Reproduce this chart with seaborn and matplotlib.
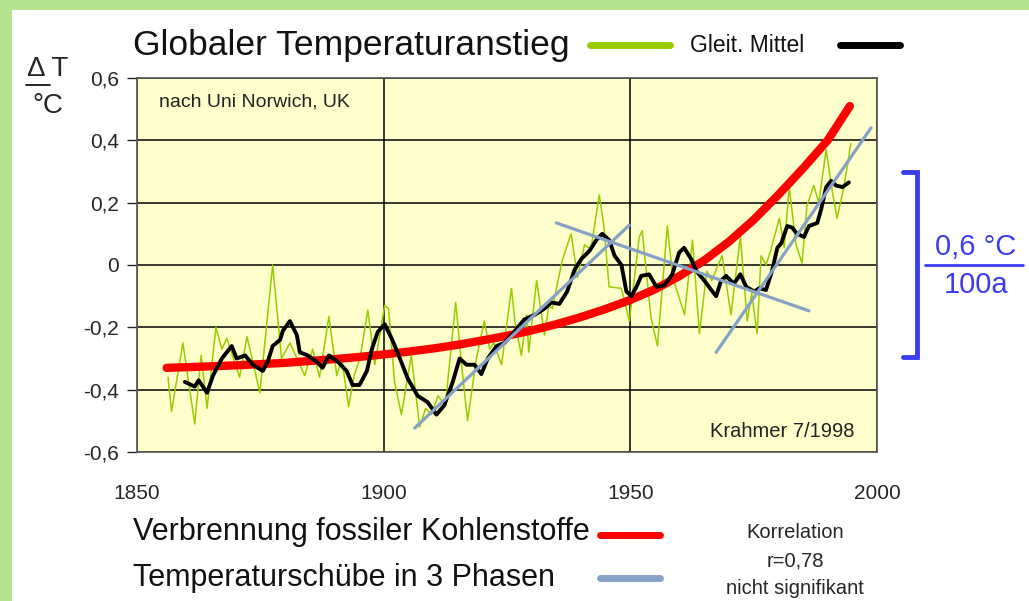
import numpy as np
import pandas as pd
import seaborn as sns
import matplotlib.pyplot as plt
from matplotlib.lines import Line2D
from matplotlib.patches import Rectangle

# -----------------------------
# Data
# -----------------------------
# annual values (green, peaks and troughs)
annual_years = [1856.3, 1857, 1859.3, 1861.7, 1863, 1864.2, 1866, 1867.2, 1868.2, 1870.8,
                1872.3, 1874.9, 1877.5, 1879.3, 1881, 1884, 1885.6, 1887, 1888.9, 1890.5,
                1891.5, 1892.9, 1894, 1895.2, 1896.8, 1898.2, 1900.2, 1901, 1902.2, 1903.6,
                1905.6, 1907.3, 1908.5, 1909.7, 1911, 1912.5, 1914.6, 1915.8, 1917, 1918.8,
                1920.4, 1921.5, 1922.3, 1923.9, 1925.9, 1926.6, 1927.9, 1929, 1929.4, 1931,
                1932.6, 1933.5, 1934.2, 1936.2, 1938, 1939.3, 1940.7, 1942, 1943.7, 1944.6,
                1945.7, 1948.2, 1949.8, 1951.8, 1952.4, 1954.2, 1955.5, 1957.5, 1958.6, 1961,
                1962.6, 1964, 1965.5, 1966.5, 1968.6, 1970.4, 1972.3, 1973.7, 1974.6, 1975.7,
                1976.5, 1977.5, 1978.5, 1980.2, 1981.2, 1982.2, 1983.6, 1984.8, 1985.8, 1987.2,
                1988.2, 1989.7, 1990.9, 1991.9, 1993.3, 1994.7]
annual_vals = [-0.36, -0.47, -0.25, -0.51, -0.29, -0.46, -0.20, -0.27, -0.235, -0.36,
               -0.23, -0.41, 0.0, -0.30, -0.25, -0.355, -0.27, -0.36, -0.165, -0.355,
               -0.30, -0.455, -0.355, -0.30, -0.145, -0.32, -0.13, -0.14, -0.375, -0.48,
               -0.29, -0.52, -0.46, -0.48, -0.42, -0.45, -0.12, -0.32, -0.50, -0.30,
               -0.18, -0.27, -0.25, -0.32, -0.075, -0.18, -0.29, -0.16, -0.28, -0.05,
               -0.225, -0.13, -0.14, 0.015, 0.10, -0.04, 0.065, 0.05, 0.225, 0.13,
               -0.07, -0.075, -0.18, 0.09, 0.11, -0.17, -0.26, 0.125, -0.04, -0.16,
               0.08, -0.22, -0.02, -0.05, 0.03, -0.16, 0.09, -0.18, -0.09, -0.22,
               0.03, 0.0, 0.05, 0.15, 0.055, 0.25, 0.065, 0.006, 0.19, 0.255,
               0.20, 0.37, 0.24, 0.15, 0.25, 0.39]

# moving average (black)
mean_years = [1859.7, 1861.7, 1862.5, 1864.2, 1865.4, 1867.2, 1869.2, 1870.2, 1871.9, 1873.5,
              1875.5, 1876.5, 1877.5, 1879, 1879.6, 1881, 1882.4, 1883, 1884.6, 1886.4,
              1887.6, 1888.9, 1890.7, 1892.5, 1893.7, 1895.1, 1896.6, 1897.6, 1898.8, 1900.2,
              1901.6, 1902.8, 1904.9, 1906.9, 1908.9, 1910.7, 1912.3, 1914, 1915.4, 1916.8,
              1918.4, 1919.8, 1921.1, 1922.9, 1924.5, 1925.9, 1928.5, 1930.6, 1932.6, 1934,
              1935.6, 1937.2, 1938.7, 1940.1, 1941.7, 1943.1, 1944.3, 1945.7, 1946.8, 1948.2,
              1949.2, 1950.2, 1951.4, 1952.2, 1953.8, 1955.3, 1956.9, 1958.5, 1959.9, 1960.9,
              1962.3, 1963.4, 1965, 1966.4, 1967.4, 1968.4, 1969.4, 1971, 1972.3, 1973.5,
              1975.1, 1976.1, 1977.5, 1978.7, 1979.8, 1980.6, 1981.8, 1982.8, 1983.8, 1985.2,
              1986.2, 1987.9, 1988.7, 1989.7, 1990.7, 1991.7, 1993, 1994.3]
mean_vals = [-0.375, -0.39, -0.37, -0.41, -0.355, -0.30, -0.26, -0.30, -0.29, -0.32,
             -0.34, -0.31, -0.26, -0.24, -0.21, -0.18, -0.225, -0.28, -0.29, -0.31,
             -0.33, -0.29, -0.31, -0.34, -0.385, -0.385, -0.34, -0.27, -0.215, -0.19,
             -0.235, -0.28, -0.365, -0.42, -0.44, -0.48, -0.45, -0.375, -0.30, -0.32,
             -0.32, -0.35, -0.30, -0.26, -0.25, -0.225, -0.175, -0.16, -0.14, -0.12,
             -0.125, -0.085, -0.015, 0.02, 0.045, 0.08, 0.10, 0.08, 0.03, 0.0,
             -0.085, -0.10, -0.065, -0.035, -0.03, -0.07, -0.065, -0.03, 0.04, 0.055,
             0.02, -0.02, -0.05, -0.08, -0.10, -0.05, -0.035, -0.06, -0.03, -0.07,
             -0.085, -0.075, -0.08, -0.02, 0.055, 0.07, 0.125, 0.12, 0.10, 0.09,
             0.125, 0.135, 0.18, 0.25, 0.27, 0.255, 0.25, 0.265]

# fossil fuel burning (red)
fossil_years = [1856, 1860, 1865, 1870, 1875, 1880, 1885, 1890, 1895, 1900, 1905, 1910, 1915,
                1920, 1925, 1930, 1935, 1940, 1945, 1950, 1955, 1960, 1965, 1970, 1975, 1980,
                1985, 1990, 1994.5]
fossil_vals = [-0.33, -0.328, -0.325, -0.322, -0.318, -0.314, -0.308, -0.302, -0.295, -0.287,
               -0.278, -0.268, -0.256, -0.242, -0.227, -0.21, -0.19, -0.167, -0.141, -0.112,
               -0.078, -0.035, 0.015, 0.075, 0.145, 0.225, 0.31, 0.40, 0.51]

# three trend phases (blue-grey), start/end points
phase_years = [[1906.3, 1949.8], [1935.0, 1986.2], [1967.4, 1998.8]]
phase_vals = [[-0.523, 0.128], [0.135, -0.147], [-0.28, 0.44]]

x_ticks = [1850, 1900, 1950, 2000]
y_ticks = [0.6, 0.4, 0.2, 0, -0.2, -0.4, -0.6]
y_tick_labels = ["0,6", "0,4", "0,2", "0", "-0,2", "-0,4", "-0,6"]

GREEN = "#99cc00"
RED = "#ff0000"
BLUEGREY = "#85a2c6"
BLUE = "#3c3cf0"

sns.set_style("white")
plt.rcParams['font.family'] = ['Liberation Sans', 'DejaVu Sans']

fig = plt.figure(figsize=(10.29, 6.01), dpi=100)
fig.patch.set_facecolor("#b6e38e")
fig.add_artist(Rectangle((12 / 1029, 0), 1, 1 - 10 / 601, transform=fig.transFigure,
                         facecolor="white", edgecolor="none", zorder=0))

ax = fig.add_axes([137 / 1029, 1 - 452 / 601, 740 / 1029, 374 / 601])
ax.set_facecolor("#ffffcc")

df_annual = pd.DataFrame({"year": annual_years, "val": annual_vals})
df_mean = pd.DataFrame({"year": mean_years, "val": mean_vals})
df_fossil = pd.DataFrame({"year": fossil_years, "val": fossil_vals})

sns.lineplot(data=df_annual, x="year", y="val", ax=ax, color=GREEN, lw=1.1, zorder=3)
sns.lineplot(data=df_fossil, x="year", y="val", ax=ax, color=RED, lw=6, zorder=4)
sns.lineplot(data=df_mean, x="year", y="val", ax=ax, color="black", lw=2.8, zorder=5)
for xs, ys in zip(phase_years, phase_vals):
    sns.lineplot(x=xs, y=ys, ax=ax, color=BLUEGREY, lw=2.3, zorder=6)

# -----------------------------
# Axes styling
# -----------------------------
ax.set_xlim(1850, 2000)
ax.set_ylim(-0.6, 0.6)
ax.set_xticks(x_ticks)
ax.set_xticklabels([str(x) for x in x_ticks], fontsize=15)
ax.set_yticks(y_ticks)
ax.set_yticklabels(y_tick_labels, fontsize=15)
ax.tick_params(axis="x", length=0, pad=23)
ax.tick_params(axis="y", length=7, width=1, direction="out", left=True, pad=6)
ax.set_xlabel("")
ax.set_ylabel("")
ax.grid(True, color="black", lw=1.1, zorder=1)
ax.set_axisbelow(True)
for s in ax.spines.values():
    s.set_color("#555555")
    s.set_linewidth(1.2)

ax.text(0.03, 0.935, "nach Uni Norwich, UK", transform=ax.transAxes, fontsize=14,
        color="#222222", va="center")
ax.text(0.97, 0.055, "Krahmer 7/1998", transform=ax.transAxes, fontsize=14.5,
        color="#222222", va="center", ha="right")

# -----------------------------
# Title and top legend
# -----------------------------
fig.text(133 / 1029, 1 - 45 / 601, "Globaler Temperaturanstieg", fontsize=25.5,
         va="center", color="#111111")
fig.add_artist(Line2D([590 / 1029, 670 / 1029], [1 - 45 / 601] * 2, color=GREEN, lw=5))
fig.text(690 / 1029, 1 - 46 / 601, "Gleit. Mittel", fontsize=16.5, va="center", color="#111111")
fig.add_artist(Line2D([840 / 1029, 900 / 1029], [1 - 45 / 601] * 2, color="black", lw=5))

# y axis unit
fig.text(48 / 1029, 1 - 69 / 601, "Δ T", fontsize=20, ha="center", va="center")
fig.add_artist(Line2D([26 / 1029, 50 / 1029], [1 - 85 / 601] * 2, color="black", lw=1.2))
fig.text(48 / 1029, 1 - 106 / 601, "°C", fontsize=20, ha="center", va="center")

# -----------------------------
# Right bracket with rate
# -----------------------------
bx = 917 / 1029
btop, bbot = 1 - 172 / 601, 1 - 357 / 601
fig.add_artist(Line2D([903 / 1029, bx, bx, 903 / 1029], [btop, btop, bbot, bbot],
                      color=BLUE, lw=3.5, solid_joinstyle="miter"))
fig.text(976 / 1029, 1 - 247 / 601, "0,6 °C", fontsize=21, ha="center", va="center", color=BLUE)
fig.add_artist(Line2D([925 / 1029, 1023 / 1029], [1 - 265 / 601] * 2, color=BLUE, lw=2))
fig.text(976 / 1029, 1 - 285 / 601, "100a", fontsize=21, ha="center", va="center", color=BLUE)

# -----------------------------
# Bottom legend
# -----------------------------
fig.text(133 / 1029, 1 - 532 / 601, "Verbrennung fossiler Kohlenstoffe", fontsize=22,
         va="center", color="#111111")
fig.add_artist(Line2D([600 / 1029, 660 / 1029], [1 - 535 / 601] * 2, color=RED, lw=5))
fig.text(133 / 1029, 1 - 578 / 601, "Temperaturschübe in 3 Phasen", fontsize=22,
         va="center", color="#111111")
fig.add_artist(Line2D([600 / 1029, 660 / 1029], [1 - 578 / 601] * 2, color=BLUEGREY, lw=5))

fig.text(795 / 1029, 1 - 532 / 601, "Korrelation", fontsize=14.5, ha="center", va="center")
fig.text(795 / 1029, 1 - 561 / 601, "r=0,78", fontsize=14.5, ha="center", va="center")
fig.text(795 / 1029, 1 - 589 / 601, "nicht signifikant", fontsize=14.5, ha="center", va="center")

fig.savefig("out.png", dpi=100, facecolor=fig.get_facecolor())
